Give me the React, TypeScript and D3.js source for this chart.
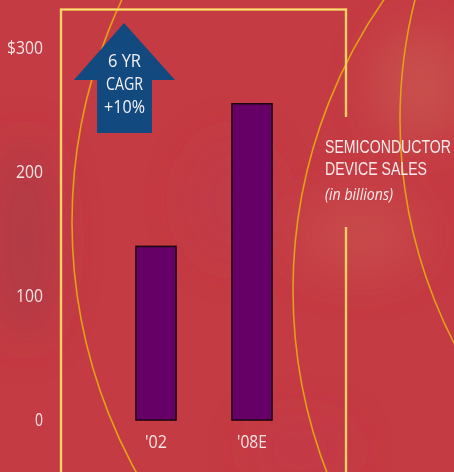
import React from "react";
import * as d3 from "d3";

const categories = ["'02", "'08E"];
const sales = [140, 255];
const yTicks = [0, 100, 200, 300];
const tickLabels = ["0", "100", "200", "$300"];
const arrowLines = ["6 YR", "CAGR", "+10%"];
const titleLines = ["SEMICONDUCTOR", "DEVICE SALES"];
const subtitle = "(in billions)";

const W = 454;
const H = 472;
const FONT = "'Open Sans', 'DejaVu Sans', sans-serif";
const TFONT = "'Liberation Sans', Arial, sans-serif";

// approximate text widths for condensed look
const tickWidths = [8, 27, 27, 36];
const catWidths = [22, 30];
const arrowWidths = [33, 37, 41];
const titleWidths = [126, 102];
const SX = 0.75;

export default function App() {
  const y = d3.scaleLinear().domain([0, 300]).range([420, 48]);
  const x = d3
    .scaleBand<string>()
    .domain(categories)
    .range([108, 300])
    .paddingInner(56 / 96)
    .paddingOuter(28 / 96);

  const arcPath = (cx: number, cy: number, r: number) => {
    const p = d3.path();
    p.arc(cx, cy, r, 0, Math.PI * 2);
    return p.toString();
  };

  const arrow = d3.line()([
    [124, 23],
    [175, 80],
    [152, 80],
    [152, 133],
    [97, 133],
    [97, 80],
    [74, 80],
    [124, 23],
  ]);

  return (
    <svg
      width={W}
      height={H}
      style={{ position: "absolute", left: 0, top: 0, display: "block" }}
    >
      <defs>
        <filter id="blur" x="-50%" y="-50%" width="200%" height="200%">
          <feGaussianBlur stdDeviation="22" />
        </filter>
        <clipPath id="clip">
          <rect x={0} y={0} width={W} height={H} />
        </clipPath>
      </defs>
      <g clipPath="url(#clip)">
        <rect x={0} y={0} width={W} height={H} fill="#c53b43" />
        <g filter="url(#blur)">
          <ellipse cx={25} cy={240} rx={30} ry={100} fill="#a03c48" opacity={0.55} />
          <ellipse cx={420} cy={85} rx={45} ry={55} fill="#cb6258" opacity={0.5} />
          <ellipse cx={360} cy={235} rx={60} ry={40} fill="#cc5a55" opacity={0.45} />
          <ellipse cx={230} cy={200} rx={40} ry={60} fill="#b93c4c" opacity={0.35} />
          <ellipse cx={300} cy={450} rx={50} ry={30} fill="#c13a4e" opacity={0.4} />
        </g>

        {/* decorative arcs */}
        <g fill="none" stroke="#e0a018" strokeWidth={1.6}>
          <path d={arcPath(592, 222, 520)} />
          <path d={arcPath(800.6, 290, 507.6)} />
          <path d={arcPath(887.5, 120, 487.5)} />
        </g>

        {/* frame */}
        <g fill="none" stroke="#f5c451" strokeWidth={2.4} strokeLinecap="butt">
          <polyline points="61,472 61,9.5 346,9.5 346,117" />
          <line x1={346} y1={227} x2={346} y2={472} />
        </g>
        <g fill="none" stroke="#fbe08a" strokeWidth={0.9}>
          <polyline points="61,472 61,9.5 346,9.5 346,117" />
          <line x1={346} y1={227} x2={346} y2={472} />
        </g>

        {/* bars */}
        {categories.map((c, i) => (
          <rect
            key={c}
            x={x(c)}
            y={y(sales[i])}
            width={x.bandwidth()}
            height={y(0) - y(sales[i])}
            fill="#660066"
            stroke="#1c0612"
            strokeWidth={1.6}
          />
        ))}

        {/* y tick labels */}
        {yTicks.map((t, i) => (
          <text
            key={t}
            x={43 - tickWidths[i]}
            y={y(t)}
            dy="0.36em"
            fill="#f6e4e4"
            fontFamily={FONT}
            fontSize={18}
            textLength={tickWidths[i]}
            lengthAdjust="spacingAndGlyphs"
          >
            {tickLabels[i]}
          </text>
        ))}

        {/* x labels */}
        {categories.map((c, i) => (
          <text
            key={c}
            x={(x(c) as number) + x.bandwidth() / 2 - catWidths[i] / 2}
            y={448}
            fill="#f6e4e4"
            fontFamily={FONT}
            fontSize={18}
            textLength={catWidths[i]}
            lengthAdjust="spacingAndGlyphs"
          >
            {c}
          </text>
        ))}

        {/* arrow */}
        <path d={arrow as string} fill="#124a7f" />
        {arrowLines.map((l, i) => (
          <text
            key={l}
            x={124.5 - arrowWidths[i] / 2}
            y={67 + i * 23}
            fill="#f4f0f4"
            fontFamily={FONT}
            fontSize={18}
            textLength={arrowWidths[i]}
            lengthAdjust="spacingAndGlyphs"
          >
            {l}
          </text>
        ))}

        {/* title */}
        {titleLines.map((l, i) => (
          <text
            key={l}
            transform={`translate(325,${153 + i * 22}) scale(${SX},1)`}
            x={0}
            y={0}
            fill="#f8eaea"
            fontFamily={TFONT}
            fontSize={19}
            textLength={titleWidths[i] / SX}
            lengthAdjust="spacingAndGlyphs"
          >
            {l}
          </text>
        ))}
        <text
          x={325}
          y={200}
          fill="#f8eaea"
          fontFamily={FONT}
          fontStyle="italic"
          fontSize={16}
          textLength={68}
          lengthAdjust="spacingAndGlyphs"
        >
          {subtitle}
        </text>
      </g>
    </svg>
  );
}
